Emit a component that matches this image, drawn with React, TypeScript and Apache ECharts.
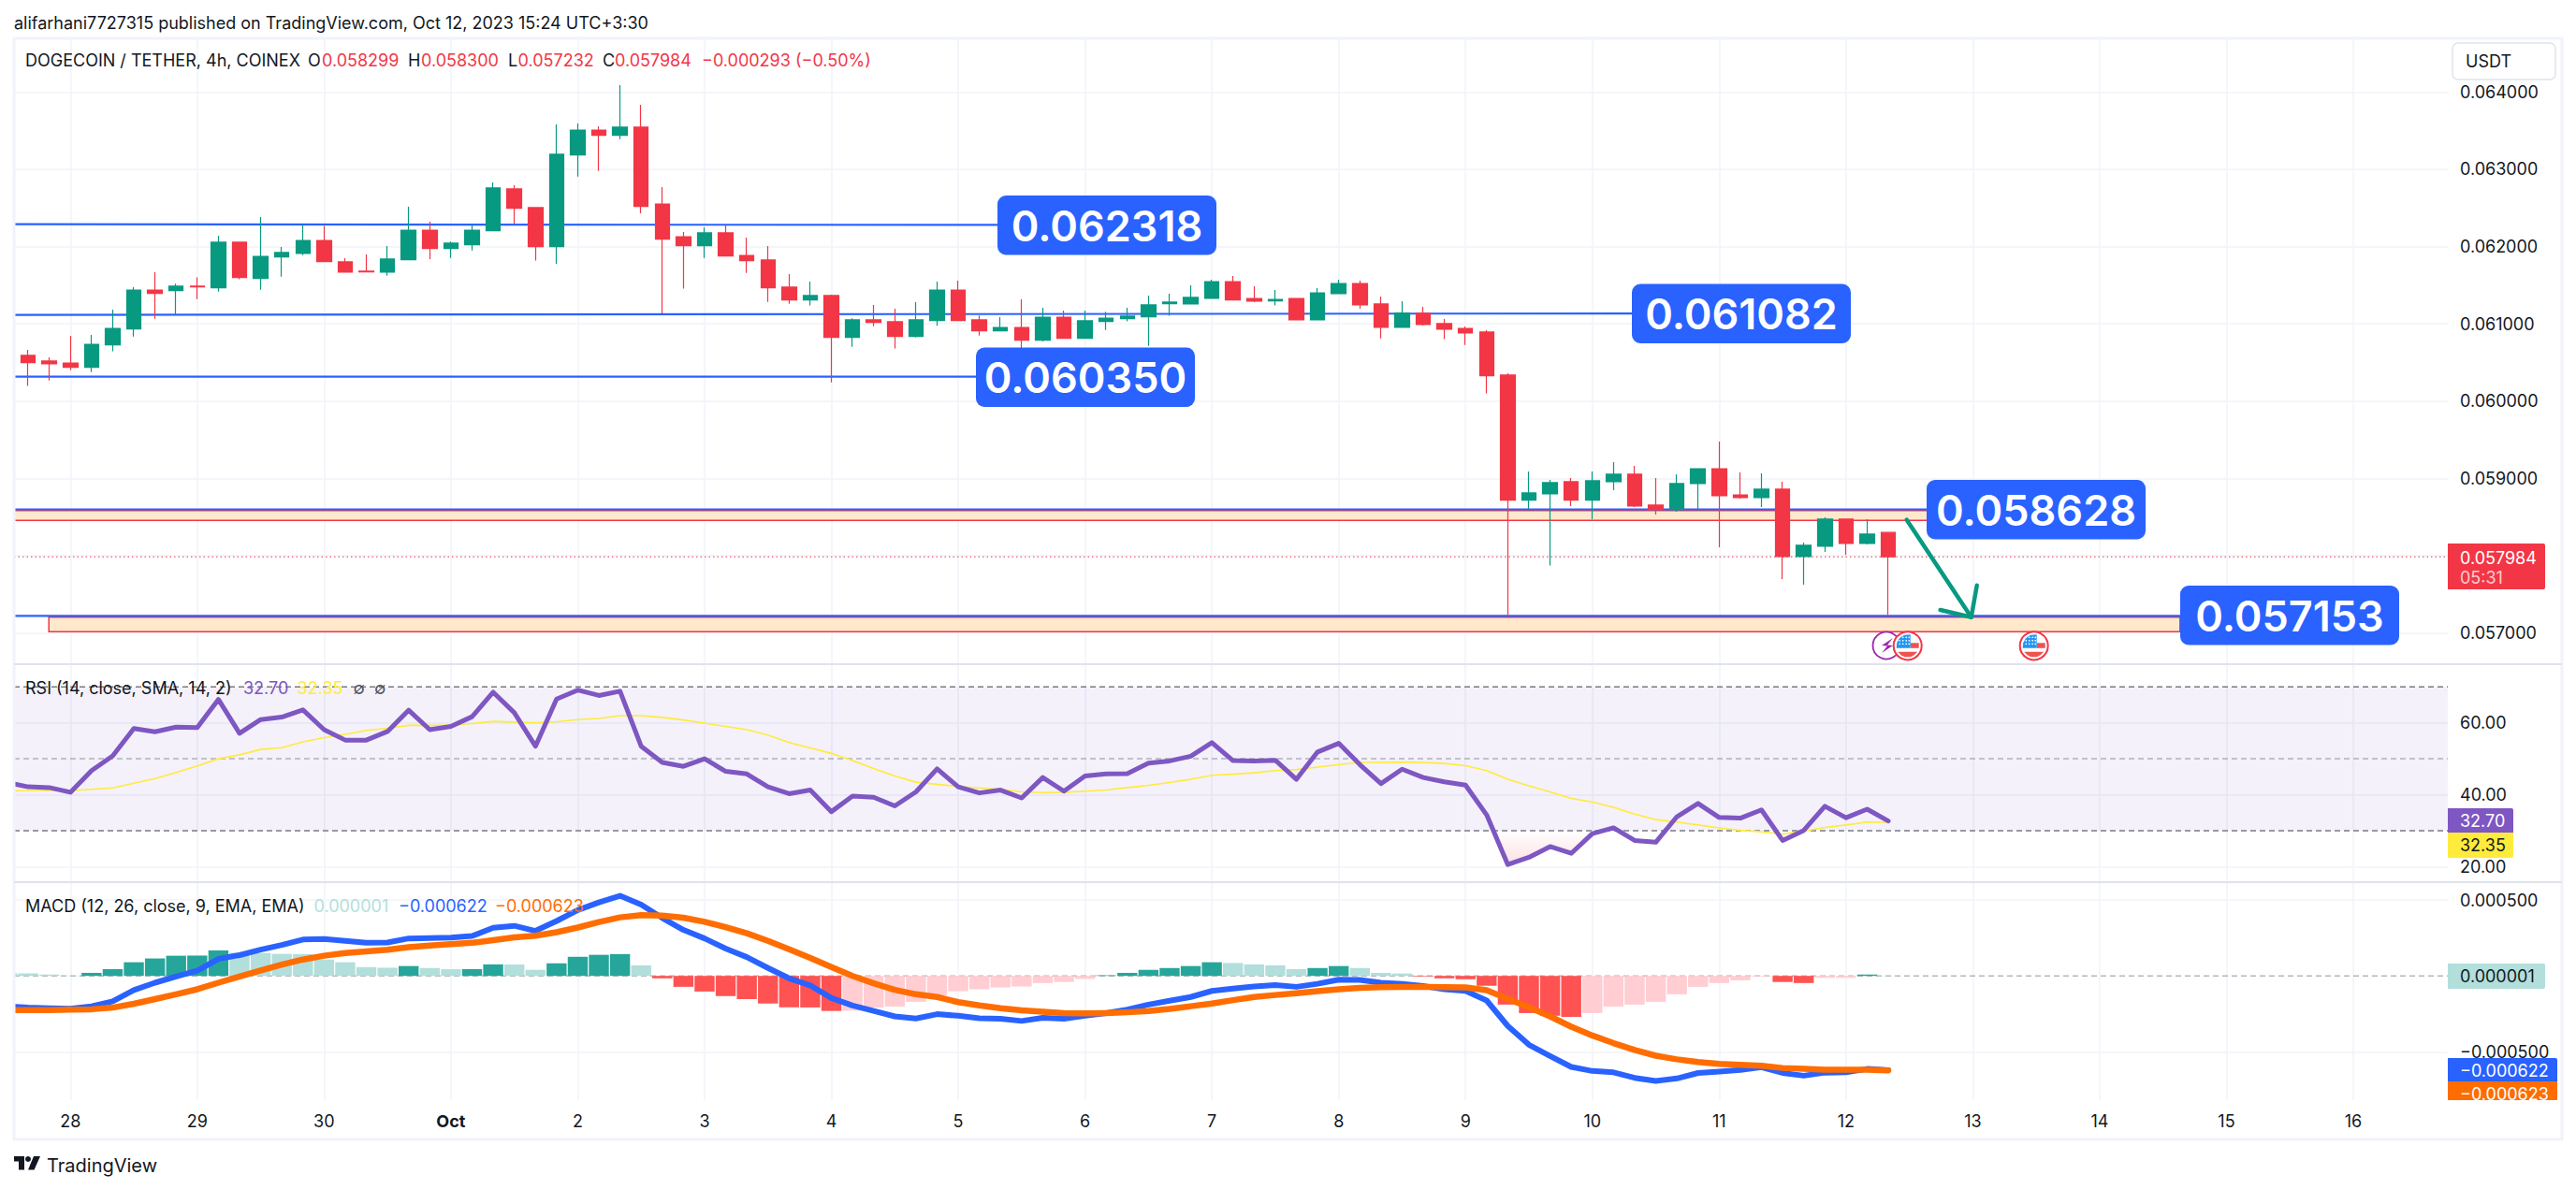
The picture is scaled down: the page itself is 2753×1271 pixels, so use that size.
import React, { useEffect, useRef } from "react";
import * as echarts from "echarts";

// ---- data: price in millionths of USDT, one entry per 4h candle ----
const opens = [60590,60518,60493,60437,60727,60933,61437,61429,61486,61466,62055,61587,61865,61910,62079,61801,61680,61667,61829,62212,61974,62023,62204,62745,62503,61998,63185,63507,63439,63544,62551,62127,62010,62176,61885,61825,61474,61308,61365,60824,61050,61026,60836,61042,61437,61050,60909,60953,60788,61086,60812,61030,61066,61090,61260,61256,61328,61546,61328,61296,61328,61050,61389,61522,61256,60953,61135,61002,60941,60893,60336,58718,58799,58956,58718,58956,59053,58653,58597,58932,59125,58786,58750,58859,57988,58121,58472,58157,58299];
const closes = [60498,60481,60437,60735,60941,61437,61393,61486,61478,62055,61599,61873,61922,62079,61805,61667,61671,61837,62212,61974,62043,62212,62757,62495,61998,63193,63507,63439,63544,62519,62095,62010,62176,61877,61817,61466,61308,61365,60824,61050,61018,60836,61050,61437,61042,60909,60953,60788,61086,60812,61038,61074,61099,61244,61280,61341,61546,61308,61292,61316,61050,61401,61522,61244,60953,61139,60990,60929,60881,60328,58718,58811,58944,58718,58968,59053,58641,58597,58932,59125,58774,58750,58859,57988,58133,58472,58157,58278,57984];
const highs = [60663,60566,60844,60856,61183,61474,61667,61518,61599,62140,62055,62382,61994,62277,62265,61849,61897,62006,62515,62321,62063,62285,62830,62793,62503,63580,63592,63556,64088,63834,62769,62188,62248,62273,62115,62006,61643,61546,61377,61070,61244,61195,61280,61546,61559,61107,61086,61316,61207,61171,61171,61155,61207,61365,61389,61498,61571,61619,61486,61437,61328,61462,61571,61559,61353,61292,61220,61062,60965,60917,60360,59089,58980,59004,59089,59210,59162,59004,59053,59125,59476,59077,59065,58956,58169,58496,58472,58472,58300];
const lows = [60195,60267,60400,60376,60643,60836,61066,61123,61320,61417,61575,61441,61611,61889,61805,61667,61667,61623,61829,61837,61853,61950,62204,62297,61817,61776,62906,62979,63390,62430,61135,61454,61853,61877,61659,61284,61260,61236,60243,60703,60969,60679,60824,60973,61042,60848,60905,60630,60772,60812,60812,60921,61030,60715,61103,61256,61328,61308,61280,61236,61050,61050,61389,61195,60812,60953,60977,60800,60727,60098,57213,58601,57871,58641,58472,58847,58629,58532,58569,58601,58109,58738,58629,57697,57624,58048,58008,58145,57232];

// indicator lists start one candle earlier (index -1), which is clipped by the pane edge
const rsi = [43.4,42.2,42.0,40.7,46.7,50.8,58.4,57.5,58.8,58.7,66.5,57.1,60.9,61.6,63.6,58.1,55.2,55.2,57.6,63.5,58.1,59.0,61.7,68.5,62.8,53.5,66.6,69.1,67.6,68.8,53.5,49.0,47.9,50.0,46.5,45.8,42.2,40.3,41.3,35.3,39.6,39.3,36.9,40.8,47.2,42.2,40.5,41.3,39.1,44.8,41.0,45.2,45.8,45.9,48.8,49.4,50.7,54.5,49.5,49.4,49.6,44.3,51.9,54.3,48.4,43.1,47.1,44.8,43.6,42.7,34.4,20.6,22.6,25.6,23.7,29.2,30.8,27.3,26.8,33.9,37.6,33.7,33.5,35.8,27.3,30.1,36.8,33.6,36.0,32.7];
const rsiSma = [41.0,41.2,41.2,41.2,41.5,41.9,43.2,44.5,46.2,48.0,50.0,51.1,52.6,53.1,54.7,55.9,56.8,57.9,58.5,59.3,59.3,59.4,59.8,60.4,60.2,60.0,60.3,60.9,61.2,62.0,62.0,61.5,60.8,59.9,59.0,58.1,56.6,54.5,53.0,51.5,49.5,47.3,45.2,43.5,42.9,42.3,41.9,41.5,40.8,40.6,40.7,41.0,41.3,42.0,42.6,43.4,44.3,45.4,45.7,46.1,46.7,47.0,47.7,48.4,49.0,49.0,49.1,49.0,48.7,48.1,46.7,44.3,42.5,40.8,39.0,38.0,36.5,34.6,33.1,32.4,31.6,30.8,30.1,29.7,29.1,29.9,30.9,31.6,32.4,32.35];
const macdHist = [18,16,9,2,20,45,90,115,133,134,168,152,151,145,144,108,90,58,54,65,52,44,45,76,75,40,83,126,139,144,70,-16,-72,-103,-133,-153,-182,-207,-208,-231,-229,-209,-202,-171,-128,-101,-88,-76,-70,-47,-40,-20,4,20,40,52,65,90,85,76,70,45,52,65,52,20,16,-4,-16,-22,-65,-189,-245,-263,-270,-245,-202,-189,-171,-121,-72,-47,-29,-4,-40,-47,-13,-13,9,1];
const macdLine = [-200,-209,-213,-216,-200,-168,-94,-45,-4,34,112,137,173,204,240,243,231,218,220,247,249,252,263,317,330,297,362,434,485,528,470,382,303,247,180,124,52,-16,-63,-146,-195,-231,-267,-281,-252,-263,-279,-283,-297,-276,-283,-263,-245,-222,-189,-164,-139,-99,-83,-70,-61,-72,-52,-25,-27,-45,-52,-67,-88,-99,-162,-330,-454,-528,-600,-627,-636,-672,-692,-676,-640,-631,-620,-602,-640,-658,-638,-636,-613,-622];
const macdSignal = [-225,-225,-225,-222,-220,-209,-184,-153,-121,-88,-45,-4,36,74,108,133,151,162,173,189,200,209,218,236,254,265,288,319,355,386,400,398,384,357,321,281,231,175,119,58,0,-49,-92,-121,-139,-173,-195,-213,-227,-236,-245,-247,-245,-240,-231,-218,-200,-182,-160,-139,-126,-115,-101,-88,-79,-74,-72,-72,-74,-76,-94,-151,-207,-267,-335,-393,-443,-488,-526,-550,-568,-580,-586,-593,-607,-613,-618,-618,-618,-623];

// ---- ticks ----
const dayTicks = [2,8,14,20,26,32,38,44,50,56,62,68,74,80,86,92,98,104,110];
const dayLabels = ["28","29","30","Oct","2","3","4","5","6","7","8","9","10","11","12","13","14","15","16"];
const priceTicks = [0.057,0.058,0.059,0.06,0.061,0.062,0.063,0.064];
const rsiTicks = [20,40,60];
const macdTicks = [-0.0005,0.0005];
const rsiBands = [70,50,30];

// ---- drawn levels ----
const levelStartValues = [0.062288,0.061114,0.060315,0.058598,0.05722];
const levelEndValues = [0.062279,0.061134,0.060315,0.058598,0.05722];
const levelEnds = [45.86,75.87,44.84,89.95,101.8];
const levelTexts = ["0.062318","0.061082","0.060350","0.058628","0.057153"];
const zoneTops = [0.058584,0.057203];
const zoneBottoms = [0.058456,0.057015];
const zoneStarts = [-0.668,0.98];
const zoneEnds = [89.95,101.8];
const lastPrice = 0.057984;

const FONT = "Inter, 'Noto Sans', sans-serif";
const UP = "#089981";
const DOWN = "#F23645";
const INK = "#131722";
const GRID = "#F0F3FA";
const XMIN = -0.668;
const XMAX = 114.47;

function txt(text: string, x: number, y: number, fill: string, size = 18, weight = 400, align = "left", z = 100) {
  return {
    type: "text", x, y, z, silent: true,
    style: { text, fill, font: `${weight} ${size}px ${FONT}`, textAlign: align, align, textVerticalAlign: "middle", verticalAlign: "middle" },
  };
}
function box(x: number, y: number, w: number, h: number, fill: string, r: any = 0, z = 90) {
  return { type: "rect", z, silent: true, shape: { x, y, width: w, height: h, r }, style: { fill } };
}
function usFlag(cx: number, cy: number) {
  const dots: any[] = [];
  for (const dx of [-8.5, -5, -1.5, 1.5]) for (const dy of [-9, -5.5, -2]) dots.push({ type: "circle", z: 97, silent: true, shape: { cx: cx + dx, cy: cy + dy, r: 0.8 }, style: { fill: "#fff" } });
  return [
    { type: "circle", z: 94, silent: true, shape: { cx, cy, r: 15 }, style: { fill: "#fff", stroke: DOWN, lineWidth: 2 } },
    box(cx + 3, cy - 3, 9, 5.5, "#EF5350", 0, 95),
    { type: "polygon", z: 95, silent: true, shape: { points: [[cx - 10.5, cy + 6.5], [cx + 10.5, cy + 6.5], [cx + 7, cy + 10], [cx + 3, cy + 12], [cx - 3, cy + 12], [cx - 7, cy + 10]] }, style: { fill: "#EF5350" } },
    { type: "polygon", z: 96, silent: true, shape: { points: [[cx + 3, cy - 12], [cx + 3, cy + 2.5], [cx - 12, cy + 2.5], [cx - 11.5, cy - 3], [cx - 8.5, cy - 8.5], [cx - 3.5, cy - 11.5]] }, style: { fill: "#2196F3" } },
    ...dots,
  ];
}

function buildGraphics() {
  const g: any[] = [];
  // clean left margin, frame & separators
  g.push(box(0, 30, 14, 1200, "#fff", 0, 60));
  g.push({ type: "rect", z: 61, silent: true, shape: { x: 15, y: 41, width: 2723, height: 1177 }, style: { fill: "none", stroke: GRID, lineWidth: 3 } });
  for (const y of [710, 943]) g.push({ type: "line", z: 80, silent: true, shape: { x1: 15, y1: y, x2: 2738, y2: y }, style: { stroke: "#E0E3EB", lineWidth: 2 } });
  // header
  g.push(txt("alifarhani7727315 published on TradingView.com, Oct 12, 2023 15:24 UTC+3:30", 15, 24, INK));
  // main legend
  g.push(txt("DOGECOIN / TETHER, 4h, COINEX", 27, 64, INK));
  const legend: [string, number, string][] = [["O", 329, INK], ["0.058299", 344, DOWN], ["H", 436, INK], ["0.058300", 450, DOWN], ["L", 543, INK], ["0.057232", 553.6, DOWN], ["C", 644, INK], ["0.057984", 657, DOWN], ["−0.000293 (−0.50%)", 750, DOWN]];
  for (const [t, x, c] of legend) g.push(txt(t, x, 64, c));
  // USDT box
  g.push({ type: "rect", z: 90, silent: true, shape: { x: 2621, y: 46, width: 110, height: 39, r: 6 }, style: { fill: "#fff", stroke: "#E0E3EB", lineWidth: 1.5 } });
  g.push(txt("USDT", 2635, 65.5, INK));
  // level boxes
  const boxes: [number, number][] = [[1066, 209], [1744, 303.5], [1043, 371.5], [2059, 513], [2330, 626]];
  boxes.forEach(([x, y], i) => {
    g.push(box(x, y, 234, 63.5, "#2962FF", 9, 92));
    g.push(txt(levelTexts[i], x + 117, y + 32, "#fff", 45, 600, "center", 93));
  });
  // last price tag
  g.push(box(2616, 581, 104, 49, DOWN, [0, 2, 2, 0]));
  g.push(txt("0.057984", 2629, 596, "#fff"));
  g.push(txt("05:31", 2629, 617, "rgba(255,255,255,0.75)"));
  // arrow
  g.push({ type: "polyline", z: 85, silent: true, shape: { points: [[2037.6, 555.6], [2106.7, 659.8]] }, style: { stroke: UP, lineWidth: 4.5, lineCap: "round", fill: "none" } });
  g.push({ type: "polyline", z: 85, silent: true, shape: { points: [[2112.7, 625.8], [2106.7, 659.8], [2073.6, 652]] }, style: { stroke: UP, lineWidth: 4.5, lineCap: "round", lineJoin: "round", fill: "none" } });
  // event icons
  g.push({ type: "circle", z: 93, silent: true, shape: { cx: 2016, cy: 690, r: 14.5 }, style: { fill: "#fff", stroke: "#9C27B0", lineWidth: 1.8 } });
  g.push({ type: "polygon", z: 93, silent: true, shape: { points: [[2023, 682], [2011, 690], [2017, 690.5], [2011, 698], [2023, 690], [2017, 689.5]] }, style: { fill: "#9C27B0" } });
  g.push(...usFlag(2038.7, 690.3), ...usFlag(2173.7, 690.3));
  // RSI legend and tags
  g.push(txt("RSI (14, close, SMA, 14, 2)", 27, 735, INK));
  g.push(txt("32.70", 260, 735, "#7E57C2"));
  g.push(txt("32.35", 317.6, 735, "#FFEB3B"));
  g.push(txt("∅", 377.6, 735, "#50535E"));
  g.push(txt("∅", 400, 735, "#50535E"));
  g.push(box(2616, 864, 70, 26, "#7E57C2", [0, 2, 0, 0]));
  g.push(txt("32.70", 2629, 877.5, "#fff"));
  g.push(box(2616, 890, 70, 27, "#FFEB3B", [0, 0, 2, 0]));
  g.push(txt("32.35", 2629, 903.5, INK));
  // MACD legend and tags
  g.push(txt("MACD (12, 26, close, 9, EMA, EMA)", 27, 968, INK));
  g.push(txt("0.000001", 335.5, 968, "#B2DFDB"));
  g.push(txt("−0.000622", 426, 968, "#2962FF"));
  g.push(txt("−0.000623", 529, 968, "#FF6D00"));
  g.push(box(2616, 1030, 104, 27, "#B2DFDB", [0, 2, 2, 0]));
  g.push(txt("0.000001", 2629, 1043.5, INK));
  g.push(box(2616, 1131, 117, 25, "#2962FF", [0, 2, 0, 0]));
  g.push(txt("−0.000622", 2629, 1144, "#fff"));
  g.push(box(2616, 1156, 117, 22, "#FF6D00", [0, 0, 0, 0]));
  g.push(txt("−0.000623", 2629, 1169.5, "#fff"));
  g.push(box(2616, 1176, 120, 20, "#fff", 0, 102));
  // footer logo
  g.push({ type: "polygon", z: 100, silent: true, shape: { points: [[15, 1236], [26, 1236], [26, 1250.5], [20, 1250.5], [20, 1241.5], [15, 1241.5]] }, style: { fill: INK } });
  g.push({ type: "circle", z: 100, silent: true, shape: { cx: 30, cy: 1239, r: 3 }, style: { fill: INK } });
  g.push({ type: "polygon", z: 100, silent: true, shape: { points: [[36, 1236], [43, 1236], [36.5, 1250.5], [30, 1250.5]] }, style: { fill: INK } });
  g.push(txt("TradingView", 50, 1246, INK, 20));
  return g;
}

function lineSeries(xi: number, yi: number, data: any[], color: string, width: number, extra: any = {}) {
  return {
    type: "line", xAxisIndex: xi, yAxisIndex: yi, data, symbol: "none", silent: true, animation: false,
    lineStyle: { color, width, cap: "round", join: "round", ...(extra.lineStyle || {}) },
    z: extra.z ?? 4, ...(extra.areaStyle ? { areaStyle: extra.areaStyle } : {}),
  };
}

function xAxisOf(gridIndex: number, showLabel: boolean) {
  return {
    type: "value", gridIndex, min: XMIN, max: XMAX, axisLine: { show: false },
    axisTick: { show: false, customValues: dayTicks },
    splitLine: { show: true, lineStyle: { color: GRID, width: 1.5 } },
    axisLabel: {
      show: showLabel, customValues: dayTicks, margin: 13, color: INK, fontFamily: FONT, fontSize: 18, hideOverlap: false,
      formatter: (v: number) => {
        const t = dayLabels[dayTicks.indexOf(v)];
        return t === "Oct" ? `{b|${t}}` : t;
      },
      rich: { b: { fontWeight: 700, fontFamily: FONT, fontSize: 18, color: INK } },
    },
  };
}
function yAxisOf(gridIndex: number, min: number, max: number, ticks: number[], fmt: (v: number) => string) {
  return {
    type: "value", gridIndex, position: "right", min, max, axisLine: { show: false },
    axisTick: { show: false, customValues: ticks },
    splitLine: { show: true, lineStyle: { color: GRID, width: 1.5 } },
    axisLabel: { customValues: ticks, margin: 13, padding: [0, 0, 2, 0], color: INK, fontFamily: FONT, fontSize: 18, formatter: fmt, hideOverlap: false },
  };
}

export default function App() {
  const ref = useRef<HTMLDivElement>(null);
  useEffect(() => {
    document.body.style.margin = "0";
    document.body.style.background = "#fff";
    const chart = echarts.init(ref.current!, undefined, { renderer: "svg" });

    const candles = opens.map((o, i) => [i, o / 1e6, closes[i] / 1e6, lows[i] / 1e6, highs[i] / 1e6]);
    const withIndex = (a: number[], k = 1) => a.map((v, i) => [i - 1, v / k]);
    const histData = macdHist.map((v, i) => {
      const p = i > 0 ? macdHist[i - 1] : v + 1;
      const color = v >= 0 ? (v >= p ? "#26A69A" : "#B2DFDB") : v < p ? "#FF5252" : "#FFCDD2";
      return { value: [i - 1, v / 1e6], itemStyle: { color } };
    });
    // below-30 stretch of the RSI, with its crossings of the 30 line
    const oversold: number[][] = [[69.32, 30]];
    for (let i = 70; i <= 74; i++) oversold.push([i, rsi[i + 1]]);
    oversold.push([74.5, 30]);

    const option: any = {
      animation: false,
      backgroundColor: "#fff",
      textStyle: { fontFamily: FONT },
      tooltip: { show: false },
      graphic: { elements: buildGraphics() },
      grid: [
        { left: 15, width: 2601, top: 41, height: 669 },
        { left: 15, width: 2601, top: 710, height: 233 },
        { left: 15, width: 2601, top: 943, height: 233 },
      ],
      xAxis: [xAxisOf(0, false), xAxisOf(1, false), xAxisOf(2, true)],
      yAxis: [
        yAxisOf(0, 0.0565945, 0.0646937, priceTicks, (v) => v.toFixed(6)),
        yAxisOf(1, 15.7, 76.3, rsiTicks, (v) => v.toFixed(2)),
        yAxisOf(2, -0.000819, 0.000618, macdTicks, (v) => (v < 0 ? "−" : "") + Math.abs(v).toFixed(6)),
      ],
      series: [
        // zones
        {
          type: "line", xAxisIndex: 0, yAxisIndex: 0, data: [], silent: true, z: 1,
          markArea: {
            silent: true,
            itemStyle: { color: "#FFE8CC", opacity: 1, borderColor: DOWN, borderWidth: 1.5 },
            data: zoneTops.map((t, i) => [{ coord: [zoneStarts[i], t] }, { coord: [zoneEnds[i], zoneBottoms[i]] }]),
          },
        },
        // drawn levels
        ...levelStartValues.map((v, i) => lineSeries(0, 0, [[XMIN, v], [levelEnds[i], levelEndValues[i]]], "#2962FF", 2.2, { z: 2 })),
        lineSeries(0, 0, [[XMIN, lastPrice], [XMAX, lastPrice]], DOWN, 1.2, { z: 2, lineStyle: { type: [1.5, 3], cap: "butt" } }),
        {
          type: "candlestick", xAxisIndex: 0, yAxisIndex: 0, data: candles, barWidth: 16, silent: true, z: 3,
          itemStyle: { color: UP, color0: DOWN, borderColor: UP, borderColor0: DOWN, borderWidth: 1.2 },
        },
        // RSI band
        lineSeries(1, 1, [[XMIN, 70], [XMAX, 70]], "transparent", 0, { z: 1, areaStyle: { color: "rgba(126,87,194,0.12)", origin: 30 } }),
        ...rsiBands.map((b) =>
          lineSeries(1, 1, [[XMIN, b], [XMAX, b]], b === 50 ? "rgba(120,123,134,0.55)" : "#787B86", 1.5, { z: 2, lineStyle: { type: [6, 4], cap: "butt" } })
        ),
        lineSeries(1, 1, oversold, "transparent", 0, {
          z: 2,
          areaStyle: {
            origin: 30,
            color: new echarts.graphic.LinearGradient(0, 0, 0, 1, [
              { offset: 0, color: "rgba(242,54,69,0)" },
              { offset: 1, color: "rgba(242,54,69,0.22)" },
            ]),
          },
        }),
        lineSeries(1, 1, withIndex(rsiSma), "#FFEB3B", 1.6, { z: 3 }),
        lineSeries(1, 1, withIndex(rsi), "#7E57C2", 5, { z: 4 }),
        // MACD
        lineSeries(2, 2, [[XMIN, 0], [XMAX, 0]], "rgba(120,123,134,0.55)", 1.5, { z: 1, lineStyle: { type: [6, 4], cap: "butt" } }),
        { type: "bar", xAxisIndex: 2, yAxisIndex: 2, data: histData, barWidth: 21.4, silent: true, z: 2 },
        lineSeries(2, 2, withIndex(macdLine, 1e6), "#2962FF", 6, { z: 4 }),
        lineSeries(2, 2, withIndex(macdSignal, 1e6), "#FF6D00", 6.5, { z: 5 }),
      ],
    };
    chart.setOption(option);
    return () => chart.dispose();
  }, []);
  return <div ref={ref} style={{ position: "absolute", left: 0, top: 0, width: 2753, height: 1271 }} />;
}
